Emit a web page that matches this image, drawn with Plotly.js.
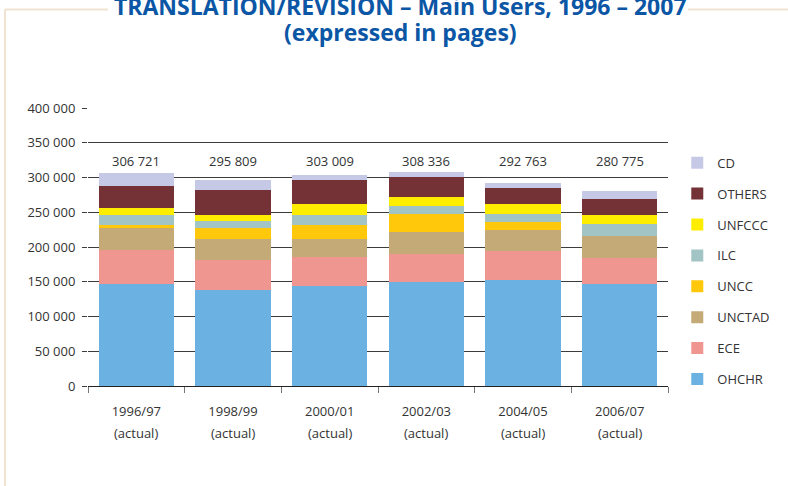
<!DOCTYPE html>
<html>
<head>
<meta charset="utf-8">
<script src="https://cdn.plot.ly/plotly-3.0.1.min.js"></script>
<style>
  html, body { margin: 0; padding: 0; background: #ffffff; }
  #Grafico { width: 788px; height: 486px; }
</style>
</head>
<body>
<div id="Grafico"></div>
<script>
let periodos = ['1996/97', '1998/99', '2000/01', '2002/03', '2004/05', '2006/07'];
let subtitulo = ['(actual)', '(actual)', '(actual)', '(actual)', '(actual)', '(actual)'];
let totales = ['306 721', '295 809', '303 009', '308 336', '292 763', '280 775'];

let ohchr = [146400, 137900, 144000, 149300, 152100, 146900];
let ece = [50000, 42800, 41000, 41000, 41500, 36700];
let unctad = [31500, 31400, 27100, 31800, 31400, 32800];
let uncc = [4300, 15700, 20000, 24800, 10500, 0];
let ilc = [14300, 10000, 14300, 12400, 12400, 16200];
let unfccc = [10000, 8600, 15700, 12800, 14200, 13800];
let otros = [31400, 35700, 34300, 28600, 22900, 22900];
let cd = [18800, 13700, 6600, 7600, 7800, 11500];

let yTickVals = [0, 50000, 100000, 150000, 200000, 250000, 300000, 350000, 400000];
let yTickText = ['0', '50 000', '100 000', '150 000', '200 000', '250 000', '300 000', '350 000', '400 000'];

// first series sits at the bottom of the stack, last one on top
let series = [
	{nombre: 'OHCHR', datos: ohchr, color: '#6bb1e1'},
	{nombre: 'ECE', datos: ece, color: '#f09691'},
	{nombre: 'UNCTAD', datos: unctad, color: '#c4aa77'},
	{nombre: 'UNCC', datos: uncc, color: '#ffc80a'},
	{nombre: 'ILC', datos: ilc, color: '#a3c4c4'},
	{nombre: 'UNFCCC', datos: unfccc, color: '#ffed00'},
	{nombre: 'OTHERS', datos: otros, color: '#743237'},
	{nombre: 'CD', datos: cd, color: '#c5c9e6'}
];

let trazas = series.map(function (s, i) {
	return {
		x: periodos,
		y: s.datos,
		name: s.nombre,
		legendgroup: s.nombre,
		legendrank: series.length - i,
		type: 'bar',
		marker: {color: s.color},
		hoverinfo: 'name+y'
	};
});

let fuente = 'Open Sans, Noto Sans, sans-serif';
let gris = '#333333';
let azul = '#0b56a5';
let marco = '#f1e3d2';

let anotaciones = [];
// totals above each bar and the "(actual)" second line under each category
for (let i = 0; i < periodos.length; i++)
{
	anotaciones.push({
		x: periodos[i], y: 323500, xref: 'x', yref: 'y',
		yanchor: 'middle',
		text: totales[i], showarrow: false,
		font: {family: fuente, size: 13, color: gris}
	});
	anotaciones.push({
		x: periodos[i], y: -0.169, xref: 'x', yref: 'paper',
		yanchor: 'middle',
		text: subtitulo[i], showarrow: false,
		font: {family: fuente, size: 13, color: gris}
	});
}
// title, two lines
anotaciones.push({
	x: 0.538, y: 1.367, xref: 'paper', yref: 'paper',
	xanchor: 'center', yanchor: 'middle',
	text: '<b>TRANSLATION/REVISION – Main Users, 1996 – 2007</b>',
	showarrow: false, font: {family: fuente, size: 23, color: azul}
});
anotaciones.push({
	x: 0.538, y: 1.272, xref: 'paper', yref: 'paper',
	xanchor: 'center', yanchor: 'middle',
	text: '<b>(expressed in pages)</b>',
	showarrow: false, font: {family: fuente, size: 23, color: azul}
});

let lineaMarco = {type: 'line', xref: 'paper', yref: 'paper', line: {color: marco, width: 2}};
let formas = [
	Object.assign({}, lineaMarco, {x0: -0.1431, x1: 0.0345, y0: 1.3547, y1: 1.3547}),
	Object.assign({}, lineaMarco, {x0: 1.0345, x1: 1.21, y0: 1.3547, y1: 1.3547}),
	Object.assign({}, lineaMarco, {x0: -0.1431, x1: -0.1431, y0: 1.3547, y1: -0.37})
];

let layout = {
	width: 788,
	height: 486,
	margin: {l: 88, r: 120, t: 108, b: 100},
	paper_bgcolor: '#ffffff',
	plot_bgcolor: '#ffffff',
	barmode: 'stack',
	bargap: 0.224,
	font: {family: fuente, size: 13, color: gris},
	xaxis: {
		type: 'category',
		showline: true,
		linecolor: '#222222',
		linewidth: 1,
		ticks: 'outside',
		tickson: 'boundaries',
		ticklen: 6,
		tickcolor: '#777777',
		ticklabelstandoff: 13,
		tickfont: {family: fuente, size: 13, color: gris},
		showgrid: false,
		fixedrange: true
	},
	yaxis: {
		range: [0, 400000],
		tickvals: yTickVals,
		ticktext: yTickText,
		showgrid: true,
		gridcolor: '#3c3c3c',
		gridwidth: 1,
		zeroline: false,
		showline: false,
		ticks: 'outside',
		ticklen: 5,
		tickcolor: '#3c3c3c',
		ticklabelstandoff: 4,
		tickfont: {family: fuente, size: 13, color: gris},
		fixedrange: true
	},
	legend: {
		x: 1.016,
		y: 0.857,
		xanchor: 'left',
		yanchor: 'top',
		traceorder: 'grouped',
		tracegroupgap: 11,
		font: {family: fuente, size: 13, color: gris},
		bgcolor: 'rgba(0,0,0,0)'
	},
	showlegend: true,
	annotations: anotaciones,
	shapes: formas
};

let contenedor = document.getElementById('Grafico');
Plotly.newPlot(contenedor, trazas, layout, {displayModeBar: false, staticPlot: true});
</script>
</body>
</html>
